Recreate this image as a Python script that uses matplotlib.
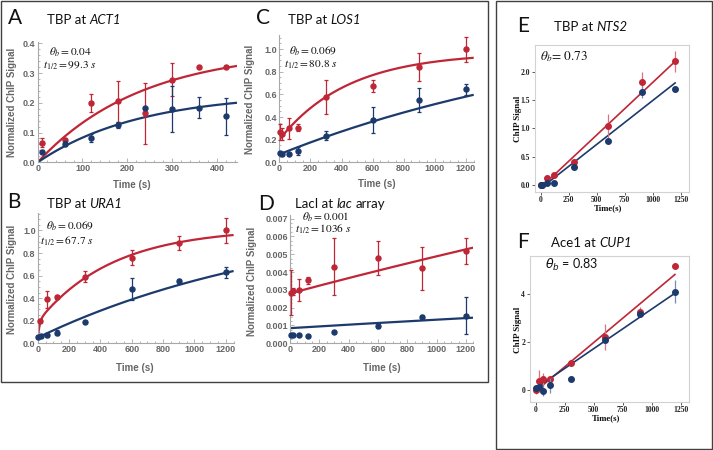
import numpy as np
import matplotlib
matplotlib.use("Agg")
import matplotlib.pyplot as plt
import matplotlib.transforms as mtransforms
from matplotlib.ticker import MultipleLocator
from matplotlib.patches import Rectangle

# ---------------- data ----------------
# Panel A: TBP at ACT1
A_t = [10, 60, 120, 180, 240, 300, 360, 420]
A_red = [0.065, 0.075, 0.198, 0.205, 0.165, 0.278, 0.32, 0.32]
A_red_err = [0.015, 0.008, 0.03, 0.068, 0.102, 0.055, 0.0, 0.004]
A_blue = [0.035, 0.063, 0.082, 0.125, 0.183, 0.18, 0.183, 0.155]
A_blue_err = [0.005, 0.008, 0.013, 0.01, 0.0, 0.078, 0.035, 0.062]
# fit parameters: [offset, amp1, rate1, amp2, rate2]
A_fit_red = [0.0, 0.38, 0.0043, 0.0, 0.0]
A_fit_blue = [0.0, 0.233, 0.0044, 0.0, 0.0]

# Panel B: TBP at URA1
B_t_red = [15, 60, 120, 300, 600, 900, 1200]
B_red = [0.2, 0.39, 0.41, 0.59, 0.76, 0.89, 1.0]
B_red_err = [0.015, 0.075, 0.015, 0.05, 0.065, 0.065, 0.11]
B_t_blue = [5, 20, 60, 120, 300, 600, 900, 1200]
B_blue = [0.055, 0.065, 0.074, 0.095, 0.19, 0.48, 0.55, 0.63]
B_blue_err = [0.01, 0.01, 0.015, 0.025, 0.0, 0.1, 0.02, 0.05]
B_fit_red = [0.02, 0.17, 0.1, 0.83, 0.0021]
B_fit_blue = [0.05, 1.12, 0.0006, 0.0, 0.0]

# Panel C: TBP at LOS1
C_t = [5, 20, 60, 120, 300, 600, 900, 1200]
C_red = [0.27, 0.25, 0.30, 0.305, 0.575, 0.675, 0.84, 1.0]
C_red_err = [0.07, 0.05, 0.09, 0.03, 0.15, 0.055, 0.125, 0.11]
C_blue = [0.08, 0.074, 0.074, 0.103, 0.236, 0.375, 0.55, 0.646]
C_blue_err = [0.015, 0.01, 0.01, 0.035, 0.04, 0.112, 0.105, 0.05]
C_fit_red = [0.2, 0.77, 0.00225, 0.0, 0.0]
C_fit_blue = [0.07, 1.21, 0.000457, 0.0, 0.0]

# Panel D: LacI at lac array
D_t = [5, 20, 60, 120, 300, 600, 900, 1200]
D_red = [0.00284, 0.00293, 0.0030, 0.00354, 0.00429, 0.00477, 0.0042, 0.00516]
D_red_err = [0.00125, 0.0002, 0.0006, 0.0002, 0.0016, 0.00095, 0.0012, 0.00073]
D_blue = [0.00045, 0.00045, 0.00045, 0.00043, 0.00066, 0.00097, 0.0015, 0.00155]
D_blue_err = [0.00003, 0.00003, 0.00003, 0.00003, 0.00003, 0.0001, 0.0001, 0.00105]
D_fit_red = [0.0028, 0.02, 0.00011, 0.0, 0.0]
D_fit_blue = [0.00085, 0.005, 0.0001, 0.0, 0.0]

# Panel E: TBP at NTS2
E_t = [0, 15, 60, 120, 300, 600, 900, 1200]
E_red = [0.0, 0.0, 0.12, 0.18, 0.40, 1.04, 1.81, 2.18]
E_red_err = [0.02, 0.02, 0.05, 0.03, 0.05, 0.22, 0.19, 0.19]
E_blue = [0.0, 0.0, 0.03, 0.04, 0.31, 0.78, 1.64, 1.69]
E_blue_err = [0.01, 0.01, 0.02, 0.02, 0.04, 0.03, 0.1, 0.03]
# linear fits: [slope, intercept, t_start, t_end]
E_line_red = [0.001855, -0.046, 20, 1200]
E_line_blue = [0.00155, -0.06, 40, 1200]

# Panel F: Ace1 at CUP1
F_t = [0, 30, 60, 120, 300, 600, 900, 1200]
F_red = [0.0, 0.375, 0.44, 0.46, 1.11, 2.2, 3.26, 5.18]
F_red_err = [0.15, 0.47, 0.26, 0.1, 0.1, 0.54, 0.18, 0.1]
F_blue = [0.07, 0.14, -0.03, 0.19, 0.46, 2.06, 3.17, 4.1]
F_blue_err = [0.05, 0.05, 0.23, 0.3, 0.05, 0.1, 0.1, 0.47]
F_line_red = [0.00405, -0.05, 10, 1200]
F_line_blue = [0.0033, 0.07, 0, 1200]

# ticks
A_xticks = [0, 100, 200, 300, 400]
A_yticks = [0.0, 0.1, 0.2, 0.3, 0.4]
A_ylabels = ["0.0", "0.1", "0.2", "0.3", "0.4"]
L_xticks = [0, 200, 400, 600, 800, 1000, 1200]
L_yticks = [0.0, 0.2, 0.4, 0.6, 0.8, 1.0]
L_ylabels = ["0.0", "0.2", "0.4", "0.6", "0.8", "1.0"]
D_yticks = [0.0, 0.001, 0.002, 0.003, 0.004, 0.005, 0.006, 0.007]
D_ylabels = ["0.000", "0.001", "0.002", "0.003", "0.004", "0.005", "0.006", "0.007"]
R_xticks = [0, 250, 500, 750, 1000, 1250]
E_yticks = [0.0, 0.5, 1.0, 1.5, 2.0]
E_ylabels = ["0.0", "0.5", "1.0", "1.5", "2.0"]
F_yticks = [0, 2, 4]
F_ylabels = ["0", "2", "4"]

# ---------------- figure ----------------
W, H = 713, 450
fig = plt.figure(figsize=(W / 100, H / 100), dpi=100)
fig.patch.set_facecolor("white")
PX = mtransforms.IdentityTransform()

RED = "#BF2636"
BLUE = "#1C3A6C"
GRAY = "#666666"
AXC = "#a8a8a8"
SANS = "Liberation Sans"
SERIF = "Liberation Serif"
TITLEF = "Lato"


def add_ax(l, r, t, b):
    return fig.add_axes([l / W, 1 - b / H, (r - l) / W, (b - t) / H])


def model(t, p):
    c, a1, k1, a2, k2 = p
    return c + a1 * (1 - np.exp(-k1 * t)) + a2 * (1 - np.exp(-k2 * t))


def unclip(cont):
    for a in cont.get_children():
        a.set_clip_on(False)


def style_left(ax, xlim, ylim, xticks, yticks, ylabels, xminor, yminor):
    ax.set_xlim(xlim)
    ax.set_ylim(ylim)
    for s in ["top", "right"]:
        ax.spines[s].set_visible(False)
    for s in ["left", "bottom"]:
        ax.spines[s].set_color(AXC)
        ax.spines[s].set_linewidth(0.8)
    ax.set_xticks(xticks, labels=[str(v) for v in xticks], fontweight="bold", family=SANS)
    ax.set_yticks(yticks, labels=ylabels, fontweight="bold", family=SANS)
    ax.xaxis.set_minor_locator(MultipleLocator(xminor))
    ax.yaxis.set_minor_locator(MultipleLocator(yminor))
    ax.tick_params(which="both", direction="in", color=AXC, width=0.6,
                   labelsize=6.5, labelcolor=GRAY, pad=1.5)
    ax.tick_params(which="major", length=3)
    ax.tick_params(which="minor", length=1.5)
    ax.set_facecolor("none")


def draw_kin(ax, tr, yr, er, tb, yb, eb, fr, fb, tmax):
    tt = np.linspace(0, tmax, 400)
    ax.plot(tt, model(tt, fr), color=RED, lw=1.6, zorder=2, solid_capstyle="butt")
    ax.plot(tt, model(tt, fb), color=BLUE, lw=1.6, zorder=2, solid_capstyle="butt")
    c1 = ax.errorbar(tr, yr, yerr=er, fmt="o", color=RED, ms=3.6, elinewidth=0.9,
                     capsize=1.6, capthick=0.9, zorder=3)
    c2 = ax.errorbar(tb, yb, yerr=eb, fmt="o", color=BLUE, ms=3.6, elinewidth=0.9,
                     capsize=1.6, capthick=0.9, zorder=4)
    unclip(c1)
    unclip(c2)


def style_right(ax, xlim, ylim, yticks, ylabels):
    ax.set_xlim(xlim)
    ax.set_ylim(ylim)
    for s in ax.spines.values():
        s.set_color("#d2d2d2")
        s.set_linewidth(0.8)
    ax.set_xticks(R_xticks, labels=[str(v) for v in R_xticks], fontweight="bold", family=SERIF)
    ax.set_yticks(yticks, labels=ylabels, fontweight="bold", family=SERIF)
    ax.tick_params(direction="out", length=2.5, width=0.6, color="#444444",
                   labelsize=5.5, labelcolor="#222222", pad=1)
    ax.tick_params(axis="x", pad=0.4)


def draw_lin(ax, t, yr, er, yb, eb, lr, lb):
    for (sl, ic, t0, t1), col in ((lr, RED), (lb, BLUE)):
        tt = np.array([t0, t1], dtype=float)
        ax.plot(tt, sl * tt + ic, color=col, lw=1.2, zorder=2)
    ax.errorbar(t, yr, yerr=er, fmt="o", color=RED, ecolor=(0.85, 0.45, 0.5),
                ms=4.0, elinewidth=0.9, zorder=3)
    ax.errorbar(t, yb, yerr=eb, fmt="o", color=BLUE, ecolor=(0.45, 0.55, 0.72),
                ms=4.0, elinewidth=0.9, zorder=4)


# --- panels A-D ---
axA = add_ax(37.7, 237, 41.8, 162.3)
style_left(axA, (0, 445), (0, 0.405), A_xticks, A_yticks, A_ylabels, 20, 0.02)
draw_kin(axA, A_t, A_red, A_red_err, A_t, A_blue, A_blue_err, A_fit_red, A_fit_blue, 445)

axB = add_ax(37.7, 233.6, 213, 343.3)
style_left(axB, (0, 1250), (0, 1.155), L_xticks, L_yticks, L_ylabels, 50, 0.05)
draw_kin(axB, B_t_red, B_red, B_red_err, B_t_blue, B_blue, B_blue_err, B_fit_red, B_fit_blue, 1250)

axC = add_ax(279.3, 473.7, 35, 162.3)
style_left(axC, (0, 1250), (0, 1.125), L_xticks, L_yticks, L_ylabels, 50, 0.05)
draw_kin(axC, C_t, C_red, C_red_err, C_t, C_blue, C_blue_err, C_fit_red, C_fit_blue, 1250)

axD = add_ax(290, 473.3, 215, 343.3)
style_left(axD, (0, 1250), (0, 0.0072), L_xticks, D_yticks, D_ylabels, 50, 0.00025)
draw_kin(axD, D_t, D_red, D_red_err, D_t, D_blue, D_blue_err, D_fit_red, D_fit_blue, 1250)

# --- panels E-F ---
axE = add_ax(535, 689, 45, 191.7)
style_right(axE, (-51, 1324), (-0.12, 2.47), E_yticks, E_ylabels)
draw_lin(axE, E_t, E_red, E_red_err, E_blue, E_blue_err, E_line_red, E_line_blue)

axF = add_ax(530, 689, 256, 401.7)
style_right(axF, (-49, 1321), (-0.49, 5.58), F_yticks, F_ylabels)
draw_lin(axF, F_t, F_red, F_red_err, F_blue, F_blue_err, F_line_red, F_line_blue)

# --- boxes ---
fig.add_artist(Rectangle((0.7, H - 381.5), 487.5, 380.8, transform=PX, fill=False,
                         edgecolor="#404040", lw=1.0))
fig.add_artist(Rectangle((495.5, H - 449), 216, 448.3, transform=PX, fill=False,
                         edgecolor="#404040", lw=1.0))

# --- text helpers ---
renderer = fig.canvas.get_renderer()


def ptext(x, y, s, **kw):
    return fig.text(x, H - y, s, transform=PX, **kw)


def rich(x, y, parts, size, family):
    cur = x
    probe = ptext(0, 0, "a a", fontsize=size, family=family)
    probe2 = ptext(0, 0, "aa", fontsize=size, family=family)
    sp = probe.get_window_extent(renderer).width - probe2.get_window_extent(renderer).width
    probe.remove()
    probe2.remove()
    for s, st in parts:
        lead = len(s) - len(s.lstrip(" "))
        trail = len(s) - len(s.rstrip(" "))
        cur += lead * sp
        t = ptext(cur, y, s.strip(" "), fontsize=size, family=family, style=st,
                  va="baseline", ha="left", color="#111111")
        cur = t.get_window_extent(renderer).x1 + trail * sp


# letters
for L, x, y in [("A", 8.3, 24), ("B", 7, 208.3), ("C", 256, 24), ("D", 258, 210),
                ("E", 517, 31.7), ("F", 517, 248.3)]:
    ptext(x, y, L, fontsize=15, family=TITLEF, va="baseline", ha="left", color="#111111")

rich(47, 24, [("TBP at ", "normal"), ("ACT1", "italic")], 9.5, TITLEF)
rich(46.7, 207.5, [("TBP at ", "normal"), ("URA1", "italic")], 9.5, TITLEF)
rich(287.7, 24, [("TBP at ", "normal"), ("LOS1", "italic")], 9.5, TITLEF)
rich(295, 208.3, [("LacI at ", "normal"), ("lac", "italic"), (" array", "normal")], 9.5, TITLEF)
rich(554, 30.7, [("TBP at ", "normal"), ("NTS2", "italic")], 9.5, TITLEF)
rich(551, 247.3, [("Ace1 at ", "normal"), ("CUP1", "italic")], 9.5, TITLEF)

# annotations
ann = dict(fontsize=8.2, va="center", ha="left", color="#111111", math_fontfamily="stix")
ptext(49.3, 52, r"$\theta_b = 0.04$", **ann)
ptext(42.7, 65.5, r"$t_{1/2} = 99.3\ s$", **ann)
ptext(45.7, 226.7, r"$\theta_b = 0.069$", **ann)
ptext(40, 241.7, r"$t_{1/2} = 67.7\ s$", **ann)
ptext(289.3, 51.3, r"$\theta_b = 0.069$", **ann)
ptext(284, 65, r"$t_{1/2} = 80.8\ s$", **ann)
ptext(301.7, 216.8, r"$\theta_b = 0.001$", **ann)
ptext(295, 229.2, r"$t_{1/2} = 1036\ s$", **ann)
ptext(540, 56.7, r"$\theta_b$= 0.73", fontsize=9.5, va="center", ha="left",
      color="#111111", family="STIXGeneral", math_fontfamily="stix")
ptext(545, 265, r"$\theta_b$ = 0.83", fontsize=9, va="center", ha="left",
      color="#111111", family=TITLEF, math_fontfamily="dejavusans")

# axis labels
yl = dict(fontsize=7, fontweight="bold", family=SANS, color=GRAY, rotation=90,
          ha="center", va="center")
ptext(11.7, 102, "Normalized ChIP Signal", **yl)
ptext(11.7, 279, "Normalized ChIP Signal", **yl)
ptext(250, 99, "Normalized ChIP Signal", **yl)
ptext(251.7, 281, "Normalized ChIP Signal", **yl)
xl = dict(fontsize=7, fontweight="bold", family=SANS, color=GRAY, ha="center", va="center")
ptext(132, 185, "Time (s)", **xl)
ptext(135.3, 367.7, "Time (s)", **xl)
ptext(376.7, 184.3, "Time (s)", **xl)
ptext(382, 367.7, "Time (s)", **xl)
yr = dict(fontsize=6.5, fontweight="bold", family=SERIF, color="#111111", rotation=90,
          ha="center", va="center")
ptext(518, 119, "ChIP Signal", **yr)
ptext(518.3, 330, "ChIP Signal", **yr)
xr = dict(fontsize=6.3, fontweight="bold", family=SERIF, color="#111111", ha="center", va="center")
ptext(608, 208.5, "Time(s)", **xr)
ptext(605.7, 418.5, "Time(s)", **xr)

fig.savefig("out.png", dpi=100, facecolor="white")
